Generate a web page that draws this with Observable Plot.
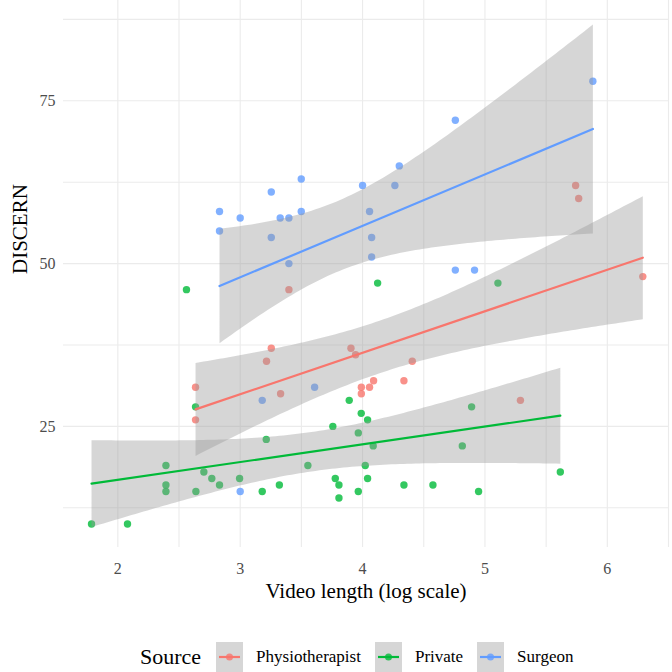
<!DOCTYPE html>
<html>
<head>
<meta charset="utf-8">
<script src="https://cdn.jsdelivr.net/npm/d3@7"></script>
<script src="https://cdn.jsdelivr.net/npm/@observablehq/plot@0.6"></script>
<style>
  html, body { margin: 0; padding: 0; background: #fff; }
  #wrap { position: relative; width: 672px; height: 672px; font-family: "Liberation Serif", "Times New Roman", serif; }
  #legend { position: absolute; left: 140px; top: 641px; height: 32px; display: flex; align-items: center; font-family: "Liberation Serif", serif; }
  #legend .title { font-size: 22px; margin-right: 15px; }
  #legend .lab { font-size: 17px; margin-left: 13px; margin-right: 14px; }
</style>
</head>
<body>
<div id="wrap"><div id="chart"></div><div id="legend"></div></div>
<script>
// ---- data ----
const sources = ["Physiotherapist", "Private", "Surgeon"];
const colors = ["#F8766D", "#00BA38", "#619CFF"];

const physioLength = [2.635, 2.635, 3.215, 3.254, 3.33, 3.398, 3.905, 3.943, 3.99, 3.99, 4.057, 4.09, 4.338, 4.406, 5.29, 5.741, 5.766, 6.29];
const physioDiscern = [31, 26, 35, 37, 30, 46, 37, 36, 31, 30, 31, 32, 32, 35, 29, 62, 60, 48];

const privateLength = [1.785, 2.079, 2.393, 2.393, 2.393, 2.561, 2.635, 2.638, 2.703, 2.768, 2.831, 2.995, 3.18, 3.213, 3.32, 3.553, 3.757, 3.777, 3.807, 3.807, 3.891, 3.965, 3.965, 3.989, 4.022, 4.041, 4.041, 4.087, 4.123, 4.338, 4.575, 4.815, 4.891, 4.948, 5.106, 5.616];
const privateDiscern = [10, 10, 19, 16, 15, 46, 28, 15, 18, 17, 16, 17, 15, 23, 16, 19, 25, 17, 16, 14, 29, 24, 15, 27, 19, 26, 17, 22, 47, 16, 16, 22, 28, 15, 47, 18];

const surgeonLength = [2.831, 2.831, 3.0, 3.0, 3.18, 3.254, 3.254, 3.327, 3.398, 3.398, 3.499, 3.499, 3.608, 4.0, 4.057, 4.074, 4.074, 4.264, 4.30, 4.758, 4.758, 4.915, 5.882];
const surgeonDiscern = [58, 55, 57, 15, 29, 61, 54, 57, 57, 50, 63, 58, 31, 62, 58, 54, 51, 62, 65, 72, 49, 49, 78];

const xTicks = [2, 3, 4, 5, 6];
const yTicks = [25, 50, 75];
const xGrid = [2, 2.5, 3, 3.5, 4, 4.5, 5, 5.5, 6, 6.5];
const yGrid = [12.5, 25, 37.5, 50, 62.5, 75, 87.5];

const xLabel = "Video length (log scale)";
const yLabel = "DISCERN";
const legendTitle = "Source";

// ---- build table ----
const rows = [];
[[physioLength, physioDiscern], [privateLength, privateDiscern], [surgeonLength, surgeonDiscern]].forEach(([xs, ys], i) => {
  xs.forEach((x, j) => rows.push({Source: sources[i], length: x, discern: ys[j]}));
});

const font = "Liberation Serif";
const chart = Plot.plot({
  width: 672,
  height: 620,
  marginLeft: 63,
  marginRight: 4,
  marginTop: 0,
  marginBottom: 73,
  style: {fontFamily: font, background: "#fff", overflow: "visible"},
  x: {domain: [1.556, 6.5]},
  y: {domain: [6.4, 90.4]},
  color: {domain: sources, range: colors},
  marks: [
    Plot.ruleX(xGrid, {x: d => d, stroke: "#ebebeb", strokeWidth: 1.1}),
    Plot.ruleY(yGrid, {y: d => d, stroke: "#ebebeb", strokeWidth: 1.1}),
    Plot.axisX(xTicks, {tickSize: 0, tickPadding: 15, fontSize: 16, fill: "#4d4d4d", label: null, tickFormat: d => String(d)}),
    Plot.axisY(yTicks, {tickSize: 0, tickPadding: 8, fontSize: 16, fill: "#4d4d4d", label: null, tickFormat: d => String(d)}),
    Plot.dot(rows, {x: "length", y: "discern", fill: "Source", r: 3.7, fillOpacity: 0.8, stroke: "none"}),
    Plot.linearRegressionY(rows, {x: "length", y: "discern", stroke: "Source", fill: "#999999", fillOpacity: 0.4, strokeWidth: 2.2, ci: 0.95}),
    Plot.text([xLabel], {frameAnchor: "bottom", dy: 50, fontSize: 21, fill: "#000"}),
    Plot.text([yLabel], {frameAnchor: "left", dx: -43, rotate: -90, fontSize: 21, fill: "#000"})
  ]
});
d3.select(chart).selectAll("g, text").attr("font-family", font).style("font-family", font);
document.getElementById("chart").appendChild(chart);

// ---- legend ----
const legend = document.getElementById("legend");
const t = document.createElement("span");
t.className = "title";
t.textContent = legendTitle;
legend.appendChild(t);
sources.forEach((s, i) => {
  const key = document.createElementNS("http://www.w3.org/2000/svg", "svg");
  key.setAttribute("width", 27);
  key.setAttribute("height", 30);
  key.innerHTML = `<rect width="27" height="30" fill="#d6d6d6"/>
    <line x1="3" x2="24" y1="15" y2="15" stroke="${colors[i]}" stroke-width="2.2"/>
    <circle cx="13.5" cy="15" r="3.5" fill="${colors[i]}" fill-opacity="0.8"/>`;
  legend.appendChild(key);
  const lab = document.createElement("span");
  lab.className = "lab";
  lab.textContent = s;
  legend.appendChild(lab);
});
</script>
</body>
</html>
